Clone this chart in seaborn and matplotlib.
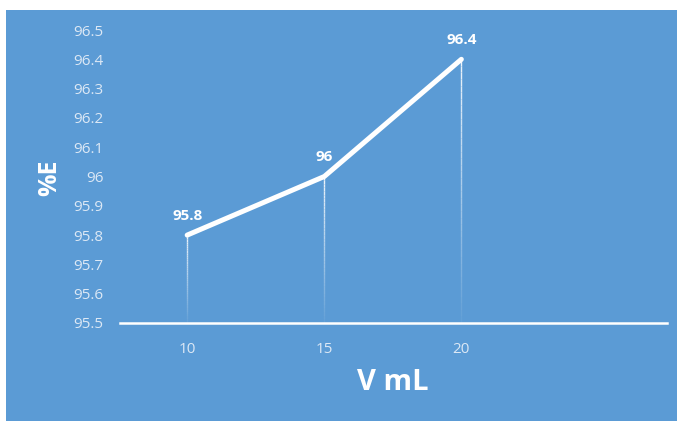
import matplotlib
matplotlib.use("Agg")
import matplotlib.pyplot as plt
from matplotlib.patches import Rectangle
from matplotlib.collections import LineCollection
import numpy as np
import seaborn as sns
import pandas as pd

# Extraction volume vs. efficiency
volume_ml = [10, 15, 20]
efficiency = [95.8, 96.0, 96.4]
value_labels = ["95.8", "96", "96.4"]
y_ticks = [95.5, 95.6, 95.7, 95.8, 95.9, 96.0, 96.1, 96.2, 96.3, 96.4, 96.5]
y_tick_labels = ["95.5", "95.6", "95.7", "95.8", "95.9", "96", "96.1", "96.2", "96.3", "96.4", "96.5"]
x_ticks = [10, 15, 20]

BLUE = "#5B9BD5"
TICK = "#DCE8F5"
Y_MIN, Y_MAX = 95.5, 96.5

sns.set_theme(style="white")
plt.rcParams["font.family"] = ["Open Sans", "DejaVu Sans"]

df = pd.DataFrame({"V": volume_ml, "E": efficiency})

fig = plt.figure(figsize=(6.78, 4.22), dpi=100, facecolor="white")
fig.patches.append(Rectangle((6 / 678, 1 / 422), 671 / 678, 411 / 422,
                             transform=fig.transFigure, facecolor=BLUE,
                             edgecolor="none", zorder=-10))

ax = fig.add_axes([120 / 678, 99 / 422, 547 / 678, 293 / 422])
ax.set_facecolor("none")

sns.lineplot(data=df, x="V", y="E", ax=ax, color="white", linewidth=3.6,
             solid_capstyle="round", zorder=3)

# drop lines from each point down to the axis, fading towards the bottom
n_steps = 40
for x, y in zip(volume_ml, efficiency):
    ys = np.linspace(y, Y_MIN, n_steps + 1)
    segs = [[(x, ys[i]), (x, ys[i + 1])] for i in range(n_steps)]
    alphas = np.linspace(0.9, 0.05, n_steps)
    colors = [(1, 1, 1, a) for a in alphas]
    ax.add_collection(LineCollection(segs, colors=colors, linewidths=1.0, zorder=2))

for x, y, t in zip(volume_ml, efficiency, value_labels):
    ax.annotate(t, (x, y), xytext=(0, 9), textcoords="offset points",
                ha="center", va="bottom", color="white", fontsize=11,
                fontweight="bold")

ax.set_xlim(7.55, 27.5)
ax.set_ylim(Y_MIN, Y_MAX)
ax.set_yticks(y_ticks)
ax.set_yticklabels(y_tick_labels)
ax.set_xticks(x_ticks)
ax.set_xticklabels([str(v) for v in x_ticks])
ax.tick_params(axis="both", length=0, colors=TICK, labelsize=11)
ax.tick_params(axis="y", pad=12)
ax.tick_params(axis="x", pad=14)

for side in ["top", "right", "left"]:
    ax.spines[side].set_visible(False)
ax.spines["bottom"].set_color("white")
ax.spines["bottom"].set_linewidth(1.8)
ax.grid(False)

ax.set_xlabel("")
ax.set_ylabel("")
fig.text(393 / 678, 1 - 383 / 422, "V mL", ha="center", va="center",
         color="white", fontsize=21, fontweight="bold")
fig.text(50 / 678, 1 - 178 / 422, "%E", ha="center", va="center",
         rotation=90, color="white", fontsize=18, fontweight="bold")

fig.savefig("out.png", dpi=100, facecolor="white")
